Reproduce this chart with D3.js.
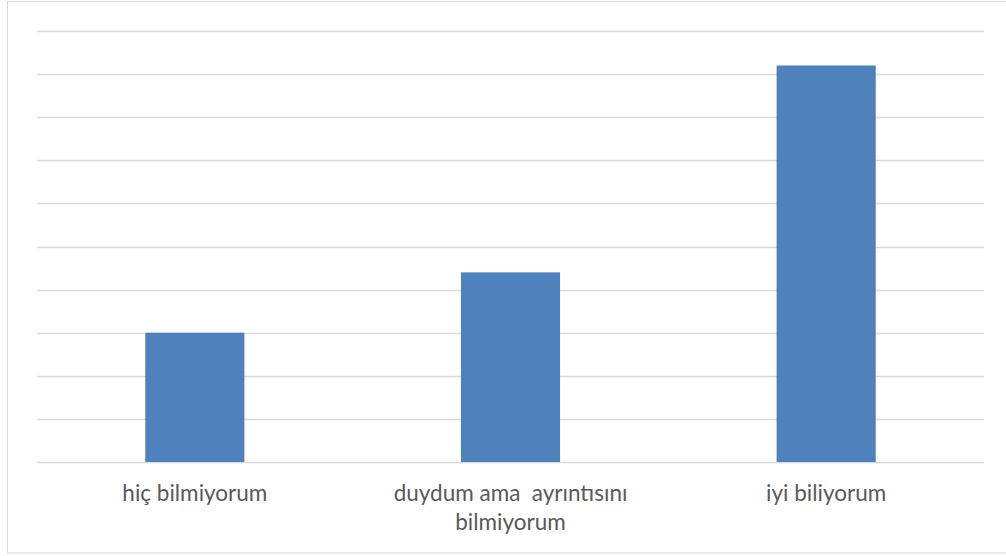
<!DOCTYPE html>
<html>
<head>
<meta charset="utf-8">
<script src="https://cdn.jsdelivr.net/npm/d3@7"></script>
<style>
  html, body { margin: 0; padding: 0; background: #fff; }
  svg { display: block; }
  text { white-space: pre; }
</style>
</head>
<body>
<svg id="chart" width="1006" height="556"></svg>
<script>
// Survey answers and their counts
const categories = ["hiç bilmiyorum", "duydum ama  ayrıntısını bilmiyorum", "iyi biliyorum"];
const labelLines = [["hiç bilmiyorum"], ["duydum ama  ayrıntısını", "bilmiyorum"], ["iyi biliyorum"]];
const values = [3, 4.4, 9.2];
const yTicks = [0, 1, 2, 3, 4, 5, 6, 7, 8, 9, 10];

const svg = d3.select("#chart");

// outer frame
svg.append("rect")
  .attr("x", 7.5).attr("y", 1.5)
  .attr("width", 1010).attr("height", 551.5)
  .attr("fill", "#fff")
  .attr("stroke", "#d9d9d9")
  .attr("stroke-width", 1);

const plot = { left: 37, right: 984, top: 31, bottom: 462 };

const x = d3.scaleBand()
  .domain(categories)
  .range([plot.left, plot.right])
  .paddingInner(0.686)
  .paddingOuter(0.343);

const y = d3.scaleLinear()
  .domain([0, 10])
  .range([plot.bottom, plot.top]);

// horizontal gridlines
svg.append("g")
  .selectAll("line")
  .data(yTicks)
  .join("line")
  .attr("x1", plot.left).attr("x2", plot.right)
  .attr("y1", d => Math.round(y(d)) + 0.5)
  .attr("y2", d => Math.round(y(d)) + 0.5)
  .attr("stroke", "#d9d9d9")
  .attr("stroke-width", 1.3);

// bars
svg.append("g")
  .selectAll("rect")
  .data(values)
  .join("rect")
  .attr("x", (d, i) => x(categories[i]))
  .attr("width", x.bandwidth())
  .attr("y", d => y(d))
  .attr("height", d => y(0) - y(d))
  .attr("fill", "#4f81bd");

// category labels
const labels = svg.append("g")
  .attr("font-family", "Lato, 'Open Sans', sans-serif")
  .attr("font-size", 22.5)
  .attr("fill", "#595959")
  .attr("text-anchor", "middle");

labels.selectAll("text")
  .data(labelLines)
  .join("text")
  .attr("x", (d, i) => x(categories[i]) + x.bandwidth() / 2)
  .attr("y", 500.5)
  .each(function (lines) {
    d3.select(this).selectAll("tspan")
      .data(lines)
      .join("tspan")
      .attr("x", d3.select(this).attr("x"))
      .attr("dy", (l, j) => j === 0 ? 0 : 29.5)
      .text(l => l);
  });
</script>
</body>
</html>
